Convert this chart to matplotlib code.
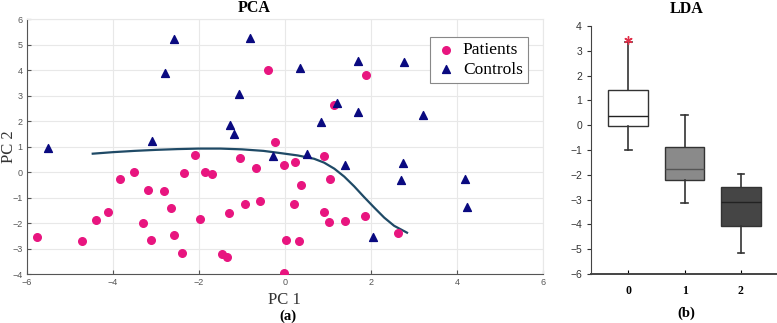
import numpy as np
import matplotlib.pyplot as plt

# PCA scores
patients_pc1 = [-0.40, -0.23, -2.09, -1.05, -0.67, -0.03, 0.23, 1.88, 1.14, 0.91,
                0.38, 1.05, 0.22, 0.91, 1.02, 1.40, 1.87, 2.64, 0.02, 0.32,
                -0.01, -3.50, -3.84, -2.35, -1.86, -1.70, -3.19, -2.82, -0.94, -0.59,
                -2.64, -1.31, -4.11, -4.40, -3.31, -1.97, -5.77, -4.73, -3.12, -2.58,
                -2.40, -1.46, -1.34]
patients_pc2 = [4.00, 1.18, 0.68, 0.55, 0.15, 0.29, 0.40, 3.83, 2.65, 0.63,
                -0.50, -0.27, -1.23, -1.56, -1.96, -1.92, -1.73, -2.39, -2.67, -2.71,
                -3.96, 0.00, -0.27, -0.04, 0.00, -0.07, -0.69, -0.73, -1.24, -1.13,
                -1.40, -1.60, -1.56, -1.86, -2.00, -1.83, -2.55, -2.69, -2.67, -2.47,
                -3.15, -3.20, -3.31]
controls_pc1 = [-5.50, -2.59, -2.78, -0.82, -1.07, -1.27, -1.19, -3.10, -0.28, 0.35,
                1.71, 2.78, 1.22, 1.71, 3.22, 0.85, 0.52, 1.40, 2.75, 2.70,
                4.18, 4.24, 2.05]
controls_pc2 = [0.94, 5.23, 3.91, 5.28, 3.06, 1.85, 1.49, 1.24, 0.65, 4.08,
                4.35, 4.31, 2.73, 2.36, 2.23, 1.98, 0.73, 0.29, 0.36, -0.31,
                -0.25, -1.36, -2.55]

# decision boundary
boundary_x = [-4.47, -4.00, -3.50, -3.00, -2.50, -2.00, -1.50, -1.00, -0.50, -0.09,
              0.30, 0.68, 0.91, 1.15, 1.38, 1.61, 1.84, 2.08, 2.31, 2.54, 2.84]
boundary_y = [0.73, 0.79, 0.84, 0.88, 0.91, 0.93, 0.93, 0.90, 0.84, 0.75,
              0.66, 0.53, 0.38, 0.14, -0.17, -0.55, -0.97, -1.39, -1.78, -2.10, -2.37]

# LDA box plot summary
lda_groups = ["0", "1", "2"]
lda_q1 = [-0.04, -2.22, -4.07]
lda_med = [0.36, -1.75, -3.09]
lda_q3 = [1.40, -0.89, -2.50]
lda_lo = [-1.02, -3.14, -5.16]
lda_hi = [3.36, 0.43, -1.96]
lda_fliers = [[3.42], [], []]
lda_colors = ["white", "#8a8a8a", "#454545"]

serif = "Liberation Serif"
sans = "Liberation Sans"

fig = plt.figure(figsize=(7.77, 3.23), dpi=100)

# PCA panel
ax = fig.add_axes([0.0347, 0.151, 0.664, 0.789])
ax.plot(boundary_x, boundary_y, color="#1f4a66", lw=1.6, zorder=2)
ax.scatter(patients_pc1, patients_pc2, s=30, color="#e8157f", marker="o", label="Patients", zorder=3)
ax.scatter(controls_pc1, controls_pc2, s=32, color="#0a0a80", marker="^", label="Controls", zorder=3)
ax.set_xlim(-6, 6)
ax.set_ylim(-4, 6)
ax.set_xticks(np.arange(-6, 7, 2))
ax.set_yticks(np.arange(-4, 7, 1))
ax.grid(True, color="#e8e8e8", lw=0.8)
ax.set_axisbelow(True)
for s in ["top", "right"]:
    ax.spines[s].set_color("#e8e8e8")
for s in ["left", "bottom"]:
    ax.spines[s].set_color("#555555")
    ax.spines[s].set_linewidth(0.8)
ax.tick_params(direction="in", length=3, labelsize=6.5, colors="#555555", pad=3)
for lab in ax.get_xticklabels() + ax.get_yticklabels():
    lab.set_fontfamily(sans)
leg = ax.legend(loc="upper right", bbox_to_anchor=(0.988, 0.966), prop={"family": serif, "size": 12.5},
                handletextpad=0.4, borderpad=0.3, labelspacing=0.2, handlelength=1.2,
                fancybox=False, edgecolor="#888888", framealpha=1)
leg.get_frame().set_linewidth(0.8)

fig.text(254 / 777, 1 - 8 / 323, "PCA", ha="center", va="center", family=serif, weight="bold", size=11.5)
fig.text(284 / 777, 1 - 300 / 323, "PC 1", ha="center", va="center", family=serif, size=12, color="#333333")
fig.text(9 / 777, 1 - 147 / 323, "PC 2", ha="center", va="center", rotation=90, family=serif, size=12, color="#333333")
fig.text(288 / 777, 1 - 316 / 323, "(a)", ha="center", va="center", family=serif, weight="bold", size=10.5)

# LDA panel
bx = fig.add_axes([0.7606, 0.1517, 0.2394, 0.7678])
stats = []
for i in range(len(lda_groups)):
    stats.append({"label": lda_groups[i], "q1": lda_q1[i], "med": lda_med[i], "q3": lda_q3[i],
                  "whislo": lda_lo[i], "whishi": lda_hi[i], "fliers": lda_fliers[i]})
bp = bx.bxp(stats, positions=range(len(lda_groups)), widths=0.7, patch_artist=True,
            capwidths=0.12, showfliers=True,
            whiskerprops={"color": "#333333", "lw": 1.2},
            capprops={"color": "#333333", "lw": 1.2},
            flierprops={"marker": (6, 2, 0), "markeredgecolor": "#e0304a", "markersize": 6})
for patch, c in zip(bp["boxes"], lda_colors):
    patch.set_facecolor(c)
    patch.set_edgecolor("#333333")
    patch.set_linewidth(1.0)
for med, c in zip(bp["medians"], ["#222222", "#555555", "#222222"]):
    med.set_color(c)
    med.set_linewidth(1.0)
bx.set_xlim(-0.66, 2.64)
bx.set_ylim(-6, 4)
bx.set_yticks(np.arange(-6, 5, 1))
for s in ["top", "right"]:
    bx.spines[s].set_visible(False)
bx.spines["left"].set_color("#444444")
bx.spines["bottom"].set_color("#444444")
bx.spines["bottom"].set_linewidth(1.4)
bx.tick_params(axis="y", direction="out", length=3, labelsize=7.5, colors="#333333")
bx.tick_params(axis="x", direction="in", length=3, labelsize=8.5, pad=8)
for lab in bx.get_yticklabels():
    lab.set_fontfamily(sans)
for lab in bx.get_xticklabels():
    lab.set_fontfamily(serif)
    lab.set_fontweight("bold")

fig.text(686.7 / 777, 1 - 9 / 323, "LDA", ha="center", va="center", family=serif, weight="bold", size=11.5)
fig.text(686.7 / 777, 1 - 313 / 323, "(b)", ha="center", va="center", family=serif, weight="bold", size=10.5)

plt.savefig("out.png", dpi=100)
